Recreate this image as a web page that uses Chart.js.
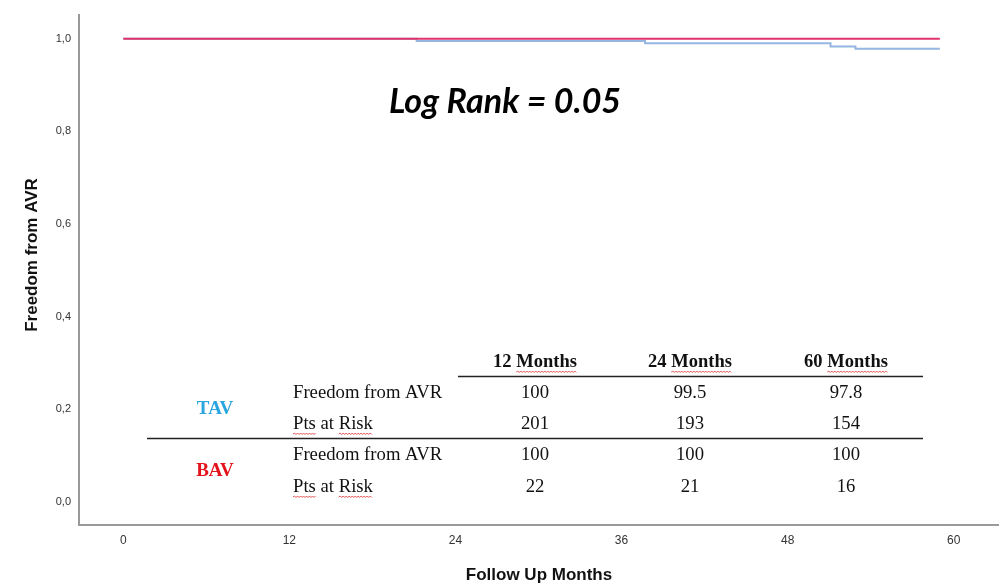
<!DOCTYPE html>
<html>
<head>
<meta charset="utf-8">
<script src="https://cdn.jsdelivr.net/npm/chart.js@4.4.0/dist/chart.umd.min.js"></script>
<style>
  body { margin: 0; background: #fff; }
  #wrap { width: 1005px; height: 587px; }
</style>
</head>
<body>
<div id="wrap"><canvas id="kmChart" width="1005" height="587"></canvas></div>
<script>
// survival curves (months, freedom from AVR)
const tavTimes = [0, 21.2, 37.7, 51.1, 52.9, 59];
const tavSurv = [1, 0.995, 0.990, 0.983, 0.978, 0.978];
const bavTimes = [0, 59];
const bavSurv = [1, 1];

const xTicks = [0, 12, 24, 36, 48, 60];
const yTicks = [0, 0.2, 0.4, 0.6, 0.8, 1.0];

// table pasted into the plot
const tableHeaders = ['12 Months', '24 Months', '60 Months'];
const rowLabels = ['Freedom from AVR', 'Pts at Risk'];
const tavFreedom = ['100', '99.5', '97.8'];
const tavAtRisk = ['201', '193', '154'];
const bavFreedom = ['100', '100', '100'];
const bavAtRisk = ['22', '21', '16'];

const logRankText = 'Log Rank = 0.05';

function toPoints(xs, ys) {
    return xs.map((x, i) => ({ x: x, y: ys[i] }));
}

function wavy(ctx, x1, x2, y) {
    ctx.save();
    ctx.strokeStyle = '#e04040';
    ctx.lineWidth = 0.9;
    ctx.beginPath();
    ctx.moveTo(x1, y);
    let up = true;
    for (let x = x1 + 1.5; x <= x2; x += 1.5) {
        ctx.lineTo(x, up ? y - 1 : y + 0.5);
        up = !up;
    }
    ctx.stroke();
    ctx.restore();
}

const overlay = {
    id: 'overlay',
    afterDraw(chart) {
        const ctx = chart.ctx;
        ctx.save();

        // axis titles
        ctx.fillStyle = '#111';
        ctx.font = 'bold 17px "Liberation Sans", Arial, sans-serif';
        ctx.textAlign = 'center';
        ctx.textBaseline = 'middle';
        ctx.fillText('Follow Up Months', 539, 575);
        ctx.save();
        ctx.translate(32, 255);
        ctx.rotate(-Math.PI / 2);
        ctx.fillText('Freedom from AVR', 0, 0);
        ctx.restore();

        // log rank note
        ctx.font = 'italic bold 34px Lato, "Open Sans", sans-serif';
        ctx.fillStyle = '#000';
        ctx.fillText(logRankText, 505, 102);

        // table
        const cols = [535, 690, 846];
        const serif = '"Liberation Serif", "Times New Roman", serif';
        ctx.font = 'bold 18.5px ' + serif;
        ctx.fillStyle = '#111';
        tableHeaders.forEach((h, i) => {
            ctx.fillText(h, cols[i], 362);
            const w = ctx.measureText(h).width;
            const mw = ctx.measureText('Months').width;
            wavy(ctx, cols[i] + w / 2 - mw, cols[i] + w / 2, 372);
        });

        ctx.strokeStyle = '#222';
        ctx.lineWidth = 1.5;
        ctx.beginPath();
        ctx.moveTo(458, 376.5);
        ctx.lineTo(923, 376.5);
        ctx.moveTo(147, 438.5);
        ctx.lineTo(923, 438.5);
        ctx.stroke();

        ctx.font = '18.7px ' + serif;
        const rows = [
            [rowLabels[0], tavFreedom, 393],
            [rowLabels[1], tavAtRisk, 424],
            [rowLabels[0], bavFreedom, 455],
            [rowLabels[1], bavAtRisk, 487]
        ];
        rows.forEach(r => {
            ctx.textAlign = 'left';
            ctx.fillStyle = '#111';
            ctx.fillText(r[0], 293, r[2]);
            if (r[0] === rowLabels[1]) {
                const pw = ctx.measureText('Pts').width;
                const aw = ctx.measureText('Pts at ').width;
                const rw = ctx.measureText('Pts at Risk').width;
                wavy(ctx, 293, 293 + pw, r[2] + 10);
                wavy(ctx, 293 + aw, 293 + rw, r[2] + 10);
            }
            ctx.textAlign = 'center';
            r[1].forEach((v, i) => ctx.fillText(v, cols[i], r[2]));
        });

        ctx.font = 'bold 19px ' + serif;
        ctx.fillStyle = '#2aa6df';
        ctx.fillText('TAV', 215, 409);
        ctx.fillStyle = '#e3131b';
        ctx.fillText('BAV', 215, 471);

        ctx.restore();
    }
};

new Chart(document.getElementById('kmChart').getContext('2d'), {
    type: 'line',
    data: {
        datasets: [{
            label: 'BAV',
            data: toPoints(bavTimes, bavSurv),
            borderColor: '#e0336a',
            borderWidth: 2,
            pointRadius: 0,
            stepped: true,
            fill: false
        }, {
            label: 'TAV',
            data: toPoints(tavTimes, tavSurv),
            borderColor: '#94b6e0',
            borderWidth: 2,
            pointRadius: 0,
            stepped: true,
            fill: false
        }]
    },
    options: {
        responsive: false,
        animation: false,
        layout: { padding: { top: 10, right: 7, left: 0, bottom: 0 } },
        plugins: {
            legend: { display: false },
            tooltip: { enabled: false }
        },
        scales: {
            x: {
                type: 'linear',
                min: -3.2,
                max: 63.2,
                afterBuildTicks: s => { s.ticks = xTicks.map(v => ({ value: v })); },
                afterFit: s => { s.height = 62; },
                grid: { display: false, drawTicks: false },
                border: { color: '#9a9a9a', width: 2 },
                ticks: {
                    padding: 8,
                    color: '#333',
                    font: { family: '"Liberation Sans Narrow", "Liberation Sans", Arial', size: 12 },
                    maxRotation: 0
                }
            },
            y: {
                type: 'linear',
                min: -0.05,
                max: 1.052,
                afterBuildTicks: s => { s.ticks = yTicks.map(v => ({ value: v })); },
                afterFit: s => { s.width = 79; },
                grid: { display: false, drawTicks: false },
                border: { color: '#9a9a9a', width: 2 },
                ticks: {
                    padding: 8,
                    color: '#333',
                    font: { family: '"Liberation Sans", Arial', size: 11 },
                    callback: v => v.toFixed(1).replace('.', ',')
                }
            }
        }
    },
    plugins: [overlay]
});
</script>
</body>
</html>
